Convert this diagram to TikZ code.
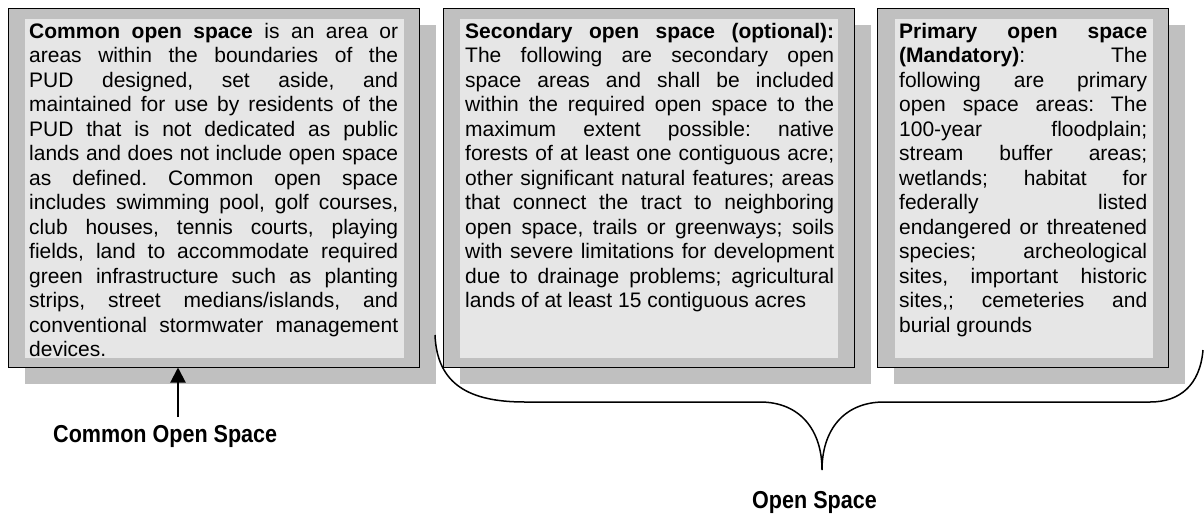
\documentclass[tikz,border=0pt]{standalone}
\usepackage{fontspec}
\setmainfont{Liberation Sans}
\newfontfamily\labelfont{Liberation Sans}[FakeStretch=0.88]
\usetikzlibrary{arrows.meta,shadows}
\definecolor{framegray}{RGB}{192,192,192}
\definecolor{panegray}{RGB}{230,230,230}
\frenchspacing
% paragraph set-up for the justified box texts: forced line ends only
\newcommand\bodysetup{\tolerance=10000\relax\pretolerance=-1\relax
  \hyphenpenalty=10000\relax\exhyphenpenalty=10000\relax
  \hbadness=10000\relax\rule{0pt}{17pt}}
\begin{document}
\begin{tikzpicture}[x=1pt,y=-1pt,
  frame/.style={draw=black, line width=1.4pt, fill=framegray, inner sep=0pt, outer sep=0pt,
    drop shadow={shadow xshift=16pt, shadow yshift=-16pt, fill=framegray, opacity=1}},
  pane/.style={fill=panegray, inner sep=0pt, outer sep=0pt},
  body/.style={anchor=north west, inner sep=0pt, align=justify,
    font=\fontsize{21}{24.5}\selectfont},
  caption/.style={font=\labelfont\bfseries\fontsize{24.5}{28}\selectfont, inner sep=0pt},
  pointer/.style={line width=2pt, -{Triangle[length=15pt,width=15pt]}},
  brace/.style={line width=1.5pt}
]
\useasboundingbox[fill=white] (0,0) rectangle (1204,515);

% ---- left box: common open space
\node[frame, minimum width=411pt, minimum height=359pt] (f1) at (214,188) {};
\node[pane, minimum width=379pt, minimum height=339pt] (p1) at (214.5,188.5) {};
\node[body, text width=369pt] (t1) at (29,21) {\bodysetup
\textbf{Common open space} is an area or \linebreak
areas within the boundaries of the \linebreak
PUD designed, set aside, and \linebreak
maintained for use by residents of the \linebreak
PUD that is not dedicated as public \linebreak
lands and does not include open space \linebreak
as defined. Common open space \linebreak
includes swimming pool, golf courses, \linebreak
club houses, tennis courts, playing \linebreak
fields, land to accommodate required \linebreak
green infrastructure such as planting \linebreak
strips, street medians/islands, and \linebreak
conventional stormwater management \linebreak
devices.};

% ---- middle box: secondary open space
\node[frame, minimum width=411pt, minimum height=359pt] (f2) at (649,188) {};
\node[pane, minimum width=378pt, minimum height=339pt] (p2) at (649,188.5) {};
\node[body, text width=369pt] (t2) at (465,21) {\bodysetup
\textbf{Secondary open space (optional):} \linebreak
The following are secondary open \linebreak
space areas and shall be included \linebreak
within the required open space to the \linebreak
maximum extent possible: native \linebreak
forests of at least one contiguous acre; \linebreak
other significant natural features; areas \linebreak
that connect the tract to neighboring \linebreak
open space, trails or greenways; soils \linebreak
with severe limitations for development \linebreak
due to drainage problems; agricultural \linebreak
lands of at least 15 contiguous acres};

% ---- right box: primary open space
\node[frame, minimum width=291pt, minimum height=359pt] (f3) at (1023,188) {};
\node[pane, minimum width=258pt, minimum height=339pt] (p3) at (1024,188.5) {};
\node[body, text width=248pt] (t3) at (899,21) {\bodysetup
\textbf{Primary open space} \linebreak
\textbf{(Mandatory)}: The \linebreak
following are primary \linebreak
open space areas: The \linebreak
100-year floodplain; \linebreak
stream buffer areas; \linebreak
wetlands; habitat for \linebreak
federally listed \linebreak
endangered or threatened \linebreak
species; archeological \linebreak
sites, important historic \linebreak
sites,; cemeteries and \linebreak
burial grounds};

% ---- captions
\node[caption, anchor=base west] (common) at (53,442) {Common Open Space};
\node[caption, anchor=base east] (open) at (877,508) {Open Space};

% ---- arrow up to the left box
\coordinate (foot) at (178,417);
\draw[pointer] (foot) -- (f1.south -| foot);

% ---- curly brace spanning the middle and right boxes
\coordinate (braceL) at (435,335);
\coordinate (braceTip) at (822,470);
\coordinate (braceR) at (1203,350);
\draw[brace] (braceL) .. controls (437,385) and (470,402) .. (525,402)
  -- (760,402) .. controls (800,402) and (822,430) .. (braceTip)
  .. controls (822,430) and (844,402) .. (884,402)
  -- (1150,402) .. controls (1180,402) and (1200,385) .. (braceR);
\end{tikzpicture}
\end{document}
